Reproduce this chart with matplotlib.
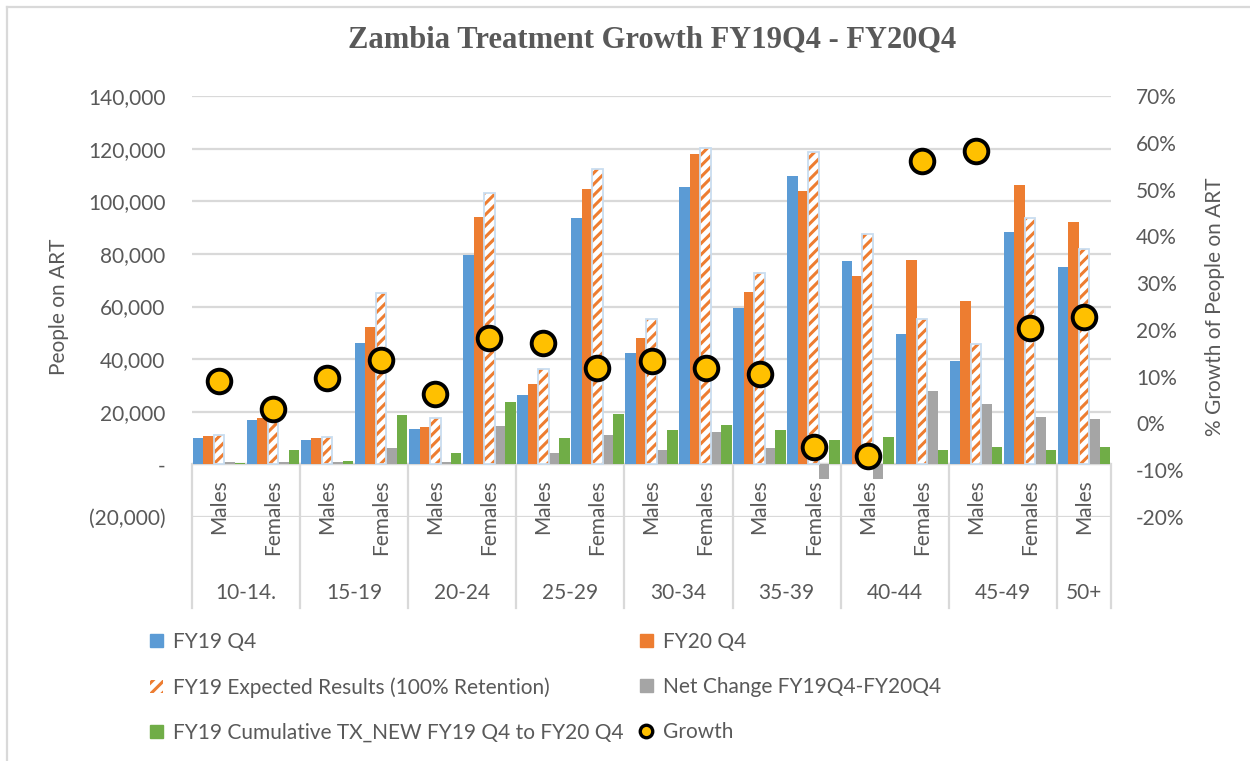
import matplotlib
matplotlib.use("Agg")
import matplotlib.pyplot as plt
from matplotlib.patches import Patch
from matplotlib.lines import Line2D
from matplotlib.ticker import FuncFormatter
import numpy as np

# ---- data ----
age_groups = ["10-14.", "15-19", "20-24", "25-29", "30-34", "35-39", "40-44", "45-49", "50+"]
sexes = ["Males", "Females", "Males", "Females", "Males", "Females", "Males", "Females",
         "Males", "Females", "Males", "Females", "Males", "Females", "Males", "Females", "Males"]
fy19_q4 = [9900, 16850, 9100, 46100, 13300, 79500, 26200, 93500, 42300,
           105400, 59300, 109500, 77200, 49700, 39200, 88200, 75200]
fy20_q4 = [10750, 17600, 10150, 52300, 14050, 93900, 30650, 104500, 48000,
           117800, 65650, 103800, 71700, 77700, 62000, 106200, 92300]
fy19_expected = [11000, 22300, 10400, 65300, 17600, 103000, 36350, 112300, 55250,
                 120300, 72600, 118700, 87500, 55250, 45900, 93800, 81700]
net_change = [850, 750, 1000, 6100, 750, 14450, 4450, 11000, 5600,
              12300, 6100, -5600, -5400, 27800, 22800, 18000, 17100]
tx_new = [600, 5450, 1150, 18900, 4300, 23800, 10150, 19000, 12900,
          14950, 13200, 9400, 10250, 5300, 6700, 5600, 6450]
growth = [0.090, 0.030, 0.098, 0.135, 0.062, 0.182, 0.172, 0.119, 0.133,
          0.119, 0.106, -0.051, -0.069, 0.561, 0.582, 0.205, 0.227]
group_sizes = [2, 2, 2, 2, 2, 2, 2, 2, 1]

blue = "#5B9BD5"
orange = "#ED7D31"
grey = "#A5A5A5"
green = "#70AD47"
gold = "#FFC000"
txt = "#595959"
gridc = "#D9D9D9"

plt.rcParams["font.family"] = ["Lato", "DejaVu Sans"]
plt.rcParams["hatch.linewidth"] = 2.2

W, H = 1250, 761
fig = plt.figure(figsize=(W / 100, H / 100), dpi=100)
ax = fig.add_axes([192 / W, 1 - 517 / H, (1111 - 192) / W, (517 - 96) / H])
ax2 = ax.twinx()

x = np.arange(len(sexes))
bw = 0.194
ax.bar(x - 2 * bw, fy19_q4, bw, color=blue, zorder=2)
ax.bar(x - bw, fy20_q4, bw, color=orange, zorder=2)
ax.bar(x, fy19_expected, bw, facecolor="white", edgecolor=orange, hatch="///", linewidth=0, zorder=2)
ax.bar(x, fy19_expected, bw, fill=False, edgecolor="#C9DDF0", linewidth=1.3, zorder=3)
ax.bar(x + bw, net_change, bw, color=grey, zorder=2)
ax.bar(x + 2 * bw, tx_new, bw, color=green, zorder=2)

ax.set_xlim(-0.5, len(sexes) - 0.5)
ax.set_ylim(-20000, 140000)
ax.set_yticks(np.arange(-20000, 140001, 20000))


def people_fmt(v, pos):
    if v == 0:
        return "-"
    if v < 0:
        return "({:,.0f})".format(-v)
    return "{:,.0f}".format(v)


ax.yaxis.set_major_formatter(FuncFormatter(people_fmt))
ax.set_xticks([])
for s in ax.spines.values():
    s.set_visible(False)
for s in ax2.spines.values():
    s.set_visible(False)
ax.grid(axis="y", color=gridc, linewidth=1.6)
ax.set_axisbelow(True)
ax.tick_params(axis="y", length=0, pad=19, labelsize=15, labelcolor=txt)
ax.axhline(0, color=gridc, linewidth=1.6, zorder=1)

# growth on secondary axis
ax2.plot(x, growth, ls="", marker="o", ms=17, mfc=gold, mec="black", mew=2.8, zorder=5, clip_on=False)
ax2.set_ylim(-0.2, 0.7)
ax2.set_yticks(np.arange(-0.2, 0.71, 0.1))
ax2.yaxis.set_major_formatter(FuncFormatter(lambda v, p: "{}%".format(int(round(v * 100)))))
ax2.tick_params(axis="y", length=0, pad=18, labelsize=15, labelcolor=txt)

ax.set_ylabel("People on ART", fontsize=15, color=txt, labelpad=14)
ax2.set_ylabel("% Growth of People on ART", fontsize=15, color=txt, labelpad=15)

# multi-level category labels
px = 160000 / (517 - 96)  # data units per pixel
for i, s in enumerate(sexes):
    ax.text(i, -15 * px, s, rotation=90, ha="center", va="top", fontsize=15, color=txt, clip_on=False)
start = 0
bounds = [-0.5]
for g, n in zip(age_groups, group_sizes):
    ax.text(start + (n - 1) / 2, -129 * px, g, ha="center", va="center", fontsize=15, color=txt, clip_on=False)
    start += n
    bounds.append(start - 0.5)
for b in bounds:
    ax.plot([b, b], [0, -144 * px], color=gridc, linewidth=1.6, clip_on=False, zorder=1)

fig.text(652 / W, 1 - 40 / H, "Zambia Treatment Growth FY19Q4 - FY20Q4", ha="center", va="center",
         fontsize=22, fontweight="bold", color=txt, family="Liberation Serif")

# legend, two columns placed separately
hatch_patch = Patch(facecolor="white", edgecolor=orange, hatch="///", linewidth=0)
growth_handle = Line2D([], [], ls="", marker="o", ms=9, mfc=gold, mec="black", mew=2.4)
col1 = [(Patch(color=blue), "FY19 Q4"),
        (hatch_patch, "FY19 Expected Results (100% Retention)"),
        (Patch(color=green), "FY19 Cumulative TX_NEW FY19 Q4 to FY20 Q4")]
col2 = [(Patch(color=orange), "FY20 Q4"),
        (Patch(color=grey), "Net Change FY19Q4-FY20Q4"),
        (growth_handle, "Growth")]
for cols, x0 in [(col1, 150), (col2, 640)]:
    fig.legend([h for h, l in cols], [l for h, l in cols], loc="upper left",
               bbox_to_anchor=(x0 / W, 1 - 632 / H), frameon=False, borderpad=0, borderaxespad=0,
               handlelength=0.6, handleheight=0.6, handletextpad=0.5, labelspacing=1.2,
               fontsize=15, labelcolor=txt)

# chart border
fig.add_artist(Line2D([6.5 / W, 1], [1 - 6.5 / H, 1 - 6.5 / H], color=gridc, lw=1.6))
fig.add_artist(Line2D([6.5 / W, 6.5 / W], [0, 1 - 6.5 / H], color=gridc, lw=1.6))

fig.savefig("out.png", dpi=100)
